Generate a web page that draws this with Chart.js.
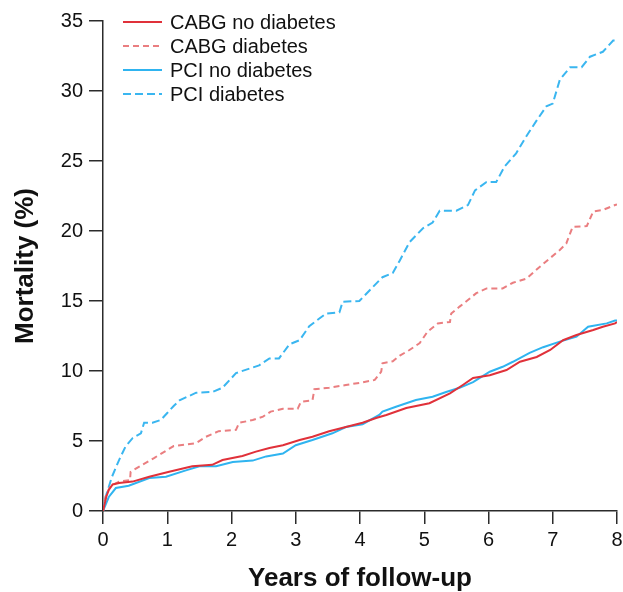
<!DOCTYPE html>
<html>
<head>
<meta charset="utf-8">
<script src="https://cdn.jsdelivr.net/npm/chart.js@4"></script>
<style>
  html, body { margin: 0; padding: 0; background: #fff; }
  #wrap { width: 623px; height: 592px; }
</style>
</head>
<body>
<div id="wrap"><canvas id="km"></canvas></div>
<script>
// years of follow-up / cumulative mortality (%)
const cabgNoDmT = [0, 0.05, 0.09, 0.15, 0.25, 0.46, 0.72, 1.03, 1.39, 1.7, 1.86, 2.17, 2.38, 2.59, 2.8, 3.06, 3.26, 3.52, 3.78, 4.04, 4.25, 4.41, 4.72, 5.08, 5.4, 5.6, 5.76, 6.02, 6.28, 6.49, 6.75, 6.96, 7.16, 7.37, 7.63, 7.78, 7.97, 8.0];
const cabgNoDmV = [0, 1.0, 1.5, 1.9, 2.0, 2.1, 2.45, 2.8, 3.2, 3.3, 3.64, 3.93, 4.24, 4.5, 4.7, 5.07, 5.3, 5.7, 6.0, 6.3, 6.64, 6.86, 7.36, 7.7, 8.4, 9.0, 9.5, 9.7, 10.07, 10.66, 11.0, 11.5, 12.2, 12.57, 12.93, 13.16, 13.4, 13.5];

const cabgDmT = [0, 0.05, 0.12, 0.25, 0.42, 0.43, 0.61, 0.8, 0.98, 1.1, 1.45, 1.6, 1.8, 2.07, 2.12, 2.33, 2.49, 2.61, 2.8, 3.03, 3.08, 3.26, 3.29, 3.52, 3.78, 4.0, 4.23, 4.33, 4.35, 4.51, 4.62, 4.77, 4.93, 5.05, 5.21, 5.4, 5.42, 5.55, 5.68, 5.81, 5.97, 6.22, 6.38, 6.59, 6.8, 6.96, 7.11, 7.21, 7.31, 7.53, 7.63, 7.78, 7.97, 8.0];
const cabgDmV = [0, 1.2, 1.8, 2.1, 2.2, 2.8, 3.3, 3.8, 4.3, 4.64, 4.85, 5.3, 5.7, 5.8, 6.3, 6.5, 6.74, 7.1, 7.3, 7.3, 7.8, 7.9, 8.7, 8.8, 9.0, 9.16, 9.36, 9.95, 10.55, 10.7, 11.1, 11.5, 12.0, 12.8, 13.4, 13.5, 14.1, 14.6, 15.07, 15.56, 15.9, 15.9, 16.3, 16.6, 17.45, 18.07, 18.64, 19.1, 20.3, 20.35, 21.4, 21.5, 21.86, 21.9];

const pciNoDmT = [0, 0.09, 0.2, 0.4, 0.72, 0.98, 1.29, 1.5, 1.76, 2.02, 2.33, 2.54, 2.8, 3.0, 3.26, 3.57, 3.78, 4.04, 4.3, 4.35, 4.56, 4.87, 5.13, 5.34, 5.55, 5.76, 6.02, 6.22, 6.38, 6.64, 6.85, 7.11, 7.37, 7.55, 7.84, 7.97, 8.0];
const pciNoDmV = [0, 1.0, 1.64, 1.8, 2.36, 2.45, 2.9, 3.2, 3.2, 3.5, 3.6, 3.9, 4.1, 4.7, 5.07, 5.55, 6.0, 6.2, 6.86, 7.1, 7.45, 7.93, 8.16, 8.5, 8.8, 9.2, 9.95, 10.3, 10.66, 11.3, 11.7, 12.1, 12.45, 13.16, 13.4, 13.6, 13.6];

const pciDmT = [0, 0.04, 0.14, 0.25, 0.35, 0.46, 0.59, 0.64, 0.77, 0.9, 1.0, 1.1, 1.19, 1.45, 1.7, 1.86, 2.07, 2.43, 2.59, 2.74, 2.9, 3.06, 3.21, 3.47, 3.68, 3.73, 3.99, 4.2, 4.35, 4.51, 4.62, 4.77, 4.98, 5.13, 5.24, 5.5, 5.68, 5.79, 5.97, 6.12, 6.25, 6.43, 6.58, 6.75, 6.9, 7.0, 7.11, 7.27, 7.45, 7.58, 7.78, 7.94, 8.0];
const pciDmV = [0, 1.0, 2.45, 3.64, 4.6, 5.2, 5.55, 6.3, 6.3, 6.5, 7.0, 7.5, 7.9, 8.45, 8.5, 8.8, 9.85, 10.4, 10.9, 10.9, 11.9, 12.2, 13.2, 14.1, 14.2, 14.95, 15.0, 16.0, 16.7, 17.0, 17.9, 19.2, 20.2, 20.6, 21.45, 21.45, 21.85, 22.9, 23.5, 23.5, 24.6, 25.55, 26.7, 27.9, 28.9, 29.1, 30.8, 31.7, 31.7, 32.45, 32.8, 33.6, 33.6];

const seriesNames = ['CABG no diabetes', 'CABG diabetes', 'PCI no diabetes', 'PCI diabetes'];
const xTicks = [0, 1, 2, 3, 4, 5, 6, 7, 8];
const yTicks = [0, 5, 10, 15, 20, 25, 30, 35];

function pts(t, v) {
	return t.map((x, i) => ({ x: x, y: v[i] }));
}

const FONT = "'Liberation Sans', Arial, sans-serif";
const AXIS = '#2b2b2b';

// legend drawn inside the plot, top-left
const kmLegend = {
	id: 'kmLegend',
	afterDraw(chart) {
		const ctx = chart.ctx;
		ctx.save();
		chart.data.datasets.forEach((ds, i) => {
			const y = 22 + i * 24;
			ctx.strokeStyle = ds.borderColor;
			ctx.lineWidth = 2;
			ctx.setLineDash(ds.borderDash || []);
			ctx.beginPath();
			ctx.moveTo(123, y);
			ctx.lineTo(162, y);
			ctx.stroke();
			ctx.setLineDash([]);
			ctx.fillStyle = '#111';
			ctx.font = '20px ' + FONT;
			ctx.textBaseline = 'middle';
			ctx.fillText(ds.label, 170, y + 1);
		});
		ctx.restore();
	}
};

var ctx = document.getElementById('km').getContext('2d');
var myChart = new Chart(ctx, {
	type: 'line',
	data: {
		datasets: [
			{ label: seriesNames[0], data: pts(cabgNoDmT, cabgNoDmV), borderColor: '#e0313a', borderWidth: 2 },
			{ label: seriesNames[1], data: pts(cabgDmT, cabgDmV), borderColor: '#ea7e80', borderWidth: 2, borderDash: [6, 4] },
			{ label: seriesNames[2], data: pts(pciNoDmT, pciNoDmV), borderColor: '#2fb4f0', borderWidth: 2 },
			{ label: seriesNames[3], data: pts(pciDmT, pciDmV), borderColor: '#3ab6f0', borderWidth: 2, borderDash: [8, 4] }
		]
	},
	options: {
		responsive: true,
		maintainAspectRatio: false,
		animation: false,
		elements: { point: { radius: 0 }, line: { tension: 0, fill: false } },
		layout: { padding: { top: 21, right: 0, left: 0, bottom: 0 } },
		plugins: { legend: { display: false }, tooltip: { enabled: false } },
		scales: {
			x: {
				type: 'linear',
				min: 0,
				max: 8,
				afterBuildTicks: (s) => { s.ticks = xTicks.map(v => ({ value: v })); },
				afterFit: (s) => { s.height = 81; s.paddingRight = 6; },
				grid: { drawOnChartArea: false, drawTicks: true, tickLength: 13, color: AXIS, lineWidth: 1.5 },
				border: { display: true, color: AXIS, width: 1.5 },
				ticks: { color: '#111', font: { size: 20, family: FONT }, padding: 4, maxRotation: 0 },
				title: { display: true, text: 'Years of follow-up', color: '#111', font: { size: 26, weight: 'bold', family: FONT, lineHeight: 1.0 }, padding: { top: 0, bottom: 0 } }
			},
			y: {
				min: 0,
				max: 35,
				afterBuildTicks: (s) => { s.ticks = yTicks.map(v => ({ value: v })); },
				afterFit: (s) => { s.width = 103; },
				grid: { drawOnChartArea: false, drawTicks: true, tickLength: 14, color: AXIS, lineWidth: 1.5 },
				border: { display: true, color: AXIS, width: 1.5 },
				ticks: { color: '#111', font: { size: 20, family: FONT }, padding: 6 },
				title: { display: true, text: 'Mortality (%)', color: '#111', font: { size: 26, weight: 'bold', family: FONT }, padding: { top: 10, bottom: 0 } }
			}
		}
	},
	plugins: [kmLegend]
});
</script>
</body>
</html>
